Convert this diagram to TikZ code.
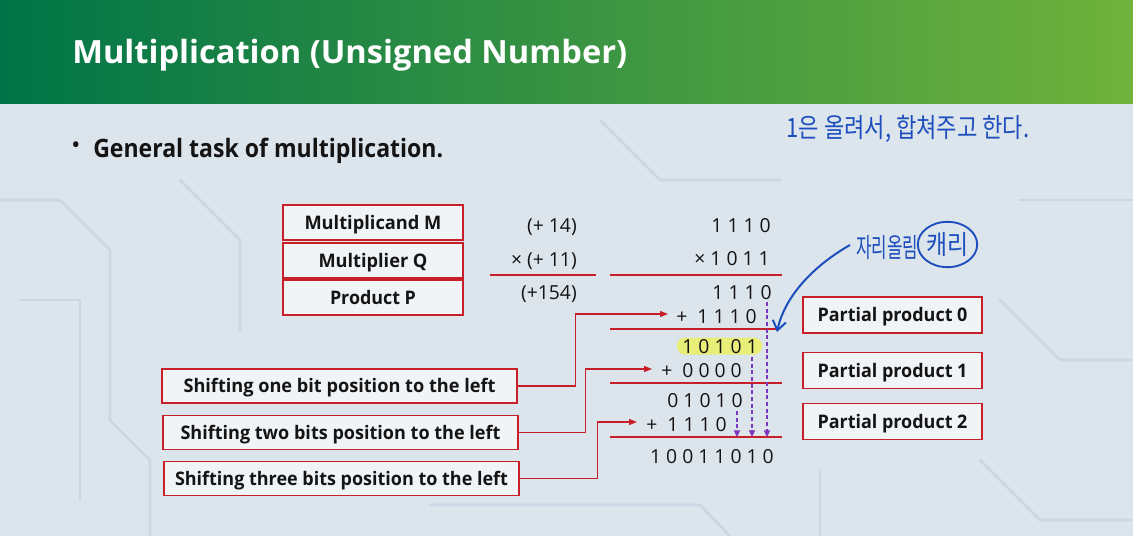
\documentclass[tikz,border=0pt]{standalone}
\usepackage{fontspec}
\setmainfont{Open Sans}
\newfontfamily\kr{Noto Sans CJK KR}
\usetikzlibrary{arrows.meta,shapes.geometric}
\definecolor{bg}{RGB}{220,228,236}
\definecolor{trace}{RGB}{204,215,227}
\definecolor{gL}{RGB}{0,116,72}
\definecolor{gR}{RGB}{112,178,60}
\definecolor{boxred}{RGB}{200,30,40}
\definecolor{ink}{RGB}{20,20,20}
\definecolor{pur}{RGB}{125,55,190}
\definecolor{hl}{RGB}{232,238,120}
\definecolor{pen}{RGB}{28,78,190}
\newsavebox\fitbox
\newlength\fitlen
\newcommand\fitw[2]{\sbox\fitbox{#2}\setlength\fitlen{\wd\fitbox}\pgfmathsetmacro\fitsc{#1*0.75/\fitlen}\scalebox{\fitsc}[1]{\usebox\fitbox}}
\begin{document}
\begin{tikzpicture}[x=0.75pt,y=-0.75pt,
  lbl/.style={draw=boxred, line width=1.1pt, fill=white, fill opacity=0.6, text opacity=1,
    inner sep=0pt, text=ink, font=\bfseries\fontsize{14}{16}\selectfont,
    text height=10pt, text depth=0pt},
  dig/.style={inner sep=0pt, anchor=base east, text=ink, font=\fontsize{14.5}{17}\selectfont},
  rline/.style={draw=boxred, line width=1.5pt},
  conn/.style={draw=boxred, line width=0.9pt, -{Triangle[length=6pt,width=4.5pt]}},
  pdash/.style={draw=pur, line width=1.1pt, dash pattern=on 3pt off 2pt, -{Triangle[length=5pt,width=4.5pt]}},
  hand/.style={inner sep=0pt, text=pen, font=\kr\fontsize{20}{22}\selectfont},
  tr/.style={draw=trace, line width=2pt, line cap=round}
]
\useasboundingbox (0,0) rectangle (1133,536);
\fill[bg] (0,0) rectangle (1133,536);
% faint circuit-board traces in the background
\draw[tr] (0,200) -- (60,200) -- (110,250) -- (110,420) -- (150,460) -- (150,536);
\draw[tr] (20,300) -- (80,300) -- (80,500);
\draw[tr] (180,180) -- (240,240) -- (240,330);
\draw[tr] (600,120) -- (660,180) -- (780,180);
\draw[tr] (1000,300) -- (1060,360) -- (1133,360);
\draw[tr] (1020,200) -- (1133,200);
\draw[tr] (980,460) -- (1040,520) -- (1133,520);
\draw[tr] (430,505) -- (700,505) -- (730,536);
\draw[tr] (820,470) -- (820,536);
\shade[left color=gL, right color=gR] (0,0) rectangle (1133,103);

% title and bullet
\node[anchor=base west, inner sep=0pt, text=white, font=\bfseries\fontsize{24}{28}\selectfont] (title) at (72,63) {\fitw{555}{Multiplication (Unsigned Number)}};
\node[inner sep=0pt, text=ink, font=\bfseries\fontsize{14}{16}\selectfont] (bul) at (76,147) {•};
\node[anchor=base west, inner sep=0pt, text=ink, font=\bfseries\fontsize{19}{22}\selectfont] (gen) at (93,157) {\fitw{350}{General task of multiplication.}};

% left label boxes
\node[lbl, minimum width=135pt, minimum height=26.25pt] (mM) at (373,222.5) {\fitw{137}{Multiplicand M}};
\node[lbl, minimum width=135pt, minimum height=26.25pt] (mQ) at (373,260.5) {\fitw{109}{Multiplier Q}};
\node[lbl, minimum width=135pt, minimum height=26.25pt] (mP) at (373,297.5) {\fitw{86}{Product P}};

\node[lbl, minimum width=266.25pt, minimum height=25.5pt] (s1) at (339.5,386) {\fitw{312}{Shifting one bit position to the left}};
\node[lbl, minimum width=266.25pt, minimum height=25.5pt] (s2) at (340.5,432.5) {\fitw{320}{Shifting two bits position to the left}};
\node[lbl, minimum width=266.25pt, minimum height=25.5pt] (s3) at (341.5,478.5) {\fitw{333}{Shifting three bits position to the left}};

\node[lbl, minimum width=134.25pt, minimum height=27pt] (pp0) at (892.5,315) {\fitw{150}{Partial product 0}};
\node[lbl, minimum width=134.25pt, minimum height=27pt] (pp1) at (892.5,370.5) {\fitw{150}{Partial product 1}};
\node[lbl, minimum width=134.25pt, minimum height=27pt] (pp2) at (892.5,421.5) {\fitw{150}{Partial product 2}};

% decimal column
\node[dig] (m1) at (577,232) {(+ 14)};
\node[dig] (m2) at (577,266) {× (+ 11)};
\node[dig] (m3) at (577,299) {(+154)};

% highlight
\fill[hl, rounded corners=6pt] (677,337.5) rectangle (762,354.5);

% binary column
\node[dig] (r1) at (771,232) {1 1 1 0};
\node[dig] (r2) at (770,265) {× 1 0 1 1};
\node[dig] (r3) at (772,299) {1 1 1 0};
\node[dig] (r4) at (757,323) {+~ 1 1 1 0};
\node[dig] (r5) at (758,353) {1 0 1 0 1};
\node[dig] (r6) at (742,377) {+~ 0 0 0 0};
\node[dig] (r7) at (743,407) {0 1 0 1 0};
\node[dig] (r8) at (727,431) {+~ 1 1 1 0};
\node[dig] (r9) at (774,463) {1 0 0 1 1 0 1 0};

% rule lines
\coordinate (la) at (490,275); \coordinate (lb) at (596,275);
\coordinate (lc) at (610,275); \coordinate (ld) at (782,275);
\coordinate (le) at (610,329); \coordinate (lf) at (776,329);
\coordinate (lg) at (610,383); \coordinate (lh) at (782,383);
\coordinate (li) at (610,437); \coordinate (lj) at (782,437);
\draw[rline] (la) -- (lb);
\draw[rline] (lc) -- (ld);
\draw[rline] (le) -- (lf);
\draw[rline] (lg) -- (lh);
\draw[rline] (li) -- (lj);

% shift connectors
\coordinate (t1) at (668,314);
\coordinate (t2) at (652,369);
\coordinate (t3) at (637,422);
\draw[conn] (s1.east) -- ++(58,0) |- (t1);
\draw[conn] (s2.east) -- ++(67,0) |- (t2);
\draw[conn] (s3.east) -- ++(78,0) |- (t3);

% purple carry arrows
\coordinate (d0s) at (767,302); \coordinate (d0e) at (767,437);
\coordinate (d1s) at (752,357); \coordinate (d1e) at (752,437);
\coordinate (d2s) at (737,411); \coordinate (d2e) at (737,437);
\draw[pdash] (d0s) -- (d0e);
\draw[pdash] (d1s) -- (d1e);
\draw[pdash] (d2s) -- (d2e);

% handwriting
\node[hand] (h1) at (908,129) {\fitw{243}{1은 올려서, 합쳐주고 한다.}};
\node[hand] (h2) at (887,248) {\fitw{62}{자리올림}};
\node[hand, ellipse, draw=pen, line width=1.4pt, minimum width=44pt, minimum height=34pt] (h3) at (947.5,244.5) {\fitw{42}{캐리}};
\coordinate (bs) at (850,245);
\coordinate (bt) at (777,332);
\draw[pen, line width=1.5pt, -{Straight Barb[length=7pt,width=10pt]}] (bs) .. controls (815,265) and (785,295) .. (bt);
\end{tikzpicture}
\end{document}
